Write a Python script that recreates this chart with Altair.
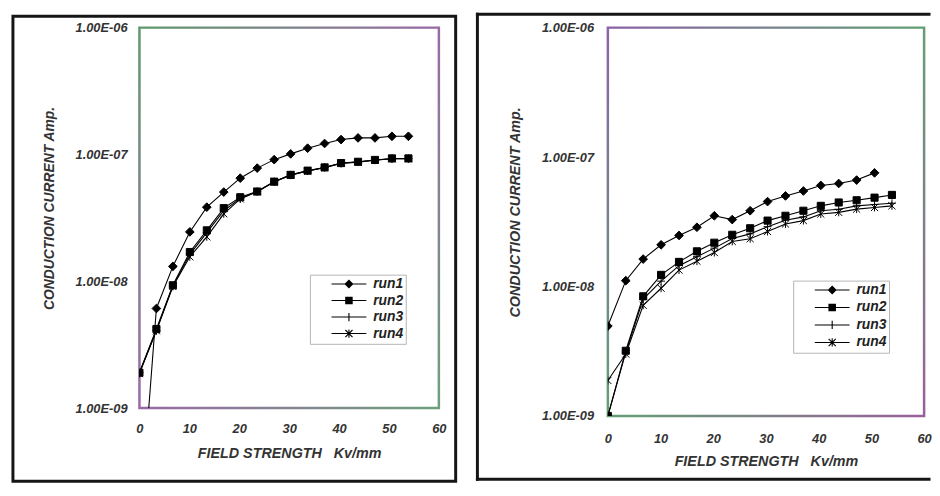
import altair as alt
import pandas as pd

# ---------------- data ----------------
series_names = ["run1", "run2", "run3", "run4"]
field_kv = [0, 3.4, 6.7, 10.1, 13.5, 16.9, 20.2, 23.6, 27.0, 30.3, 33.7, 37.1, 40.4, 43.8, 47.2, 50.6, 53.9]

left_run1 = [1.1e-10, 6.1e-9, 1.31e-8, 2.45e-8, 3.84e-8, 5.05e-8, 6.5e-8, 7.8e-8, 9.1e-8,
             1.01e-7, 1.12e-7, 1.22e-7, 1.31e-7, 1.35e-7, 1.35e-7, 1.39e-7, 1.39e-7]
left_run2 = [1.9e-9, 4.2e-9, 9.3e-9, 1.7e-8, 2.52e-8, 3.77e-8, 4.6e-8, 5.1e-8, 6.1e-8,
             6.9e-8, 7.45e-8, 7.9e-8, 8.55e-8, 8.75e-8, 9.05e-8, 9.3e-8, 9.3e-8]
left_run3 = [1.9e-9, 4.1e-9, 9.2e-9, 1.63e-8, 2.42e-8, 3.6e-8, 4.5e-8, 5.1e-8, 6.1e-8,
             6.9e-8, 7.4e-8, 7.9e-8, 8.5e-8, 8.7e-8, 9.0e-8, 9.25e-8, 9.25e-8]
left_run4 = [1.87e-9, 4.07e-9, 9.1e-9, 1.56e-8, 2.24e-8, 3.4e-8, 4.46e-8, 5.08e-8, 6.08e-8,
             6.86e-8, 7.4e-8, 7.87e-8, 8.51e-8, 8.71e-8, 9.03e-8, 9.25e-8, 9.25e-8]

right_run1 = [4.95e-9, 1.11e-8, 1.63e-8, 2.1e-8, 2.48e-8, 2.87e-8, 3.52e-8, 3.29e-8,
              3.85e-8, 4.53e-8, 5.01e-8, 5.47e-8, 6.04e-8, 6.25e-8, 6.64e-8, 7.55e-8]
right_run2 = [1.0e-9, 3.19e-9, 8.4e-9, 1.23e-8, 1.55e-8, 1.87e-8, 2.18e-8, 2.51e-8, 2.82e-8,
              3.23e-8, 3.52e-8, 3.85e-8, 4.2e-8, 4.46e-8, 4.64e-8, 4.86e-8, 5.1e-8]
right_run3 = [1.0e-9, 3.1e-9, 8.0e-9, 1.1e-8, 1.45e-8, 1.7e-8, 1.98e-8, 2.35e-8, 2.55e-8,
              2.9e-8, 3.25e-8, 3.45e-8, 3.85e-8, 3.95e-8, 4.2e-8, 4.3e-8, 4.4e-8]
right_run4 = [1.88e-9, 3.01e-9, 7.16e-9, 9.7e-9, 1.34e-8, 1.57e-8, 1.83e-8, 2.23e-8, 2.34e-8,
              2.66e-8, 3.04e-8, 3.23e-8, 3.63e-8, 3.74e-8, 3.96e-8, 4.08e-8, 4.2e-8]

x_ticks = [0, 10, 20, 30, 40, 50, 60]
y_ticks = [1e-9, 1e-8, 1e-7, 1e-6]

x_title = "FIELD STRENGTH\u00a0\u00a0\u00a0Kv/mm"
y_title = "CONDUCTION CURRENT Amp."

# marker shapes for the data points (unit paths, stroked + filled)
marker_paths = [
    "M0,-1.1L1.1,0L0,1.1L-1.1,0Z",
    "M-0.9,-0.9H0.9V0.9H-0.9Z",
    "M-1,0H1M0,-1V1",
    "M-0.9,-0.9L0.9,0.9M-0.9,0.9L0.9,-0.9M0,-1V1",
]
# legend symbols: line segment + marker, drawn purely as filled outlines
_seg = "M-4.4,-0.14H4.4V0.14H-4.4Z"
_vbar = "M-0.14,-1.05H0.14V1.05H-0.14Z"
legend_paths = [
    _seg + "M0,-1.15L1.15,0L0,1.15L-1.15,0Z",
    _seg + "M-0.95,-0.95H0.95V0.95H-0.95Z",
    _seg + _vbar,
    _seg + "M-0.8,-1L1,0.8L0.8,1L-1,-0.8Z" + "M-1,0.8L0.8,-1L1,-0.8L-0.8,1Z" + _vbar,
]

FONT = "Liberation Sans"
TXT = "#333333"


def long_df(runs, xs):
    rows = []
    for name, vals in zip(series_names, runs):
        for xv, yv in zip(xs, vals):
            rows.append({"x": xv, "y": yv, "series": name})
    return pd.DataFrame(rows)


one = pd.DataFrame({"k": [0]})
legend_df = pd.DataFrame({"series": series_names})


def panel(df, W, H, lab_pad_y, lab_pad_x, title_pad_x, ytitle_size, xtitle_size,
          legend_x, legend_y, row_pad, trail, grad_stops, frame_layers):
    xs = alt.Scale(domain=[0, 60], nice=False, zero=False)
    ys = alt.Scale(type="log", domain=[1e-9, 1e-6], nice=False)
    xaxis = alt.Axis(values=x_ticks, ticks=False, domain=False, grid=False,
                     labelPadding=lab_pad_x, titlePadding=title_pad_x, labelFlush=False,
                     labelOverlap=False, labelFont=FONT, labelFontSize=13,
                     labelFontStyle="italic", labelFontWeight="bold", labelColor=TXT,
                     titleFont=FONT, titleFontSize=xtitle_size, titleFontStyle="italic",
                     titleFontWeight="bold", titleColor=TXT)
    yaxis = alt.Axis(values=y_ticks, ticks=False, domain=False, grid=False,
                     labelExpr="'1.00E-0' + round(-log(datum.value)/LN10)",
                     labelPadding=lab_pad_y, titlePadding=19, labelFlush=False,
                     labelOverlap=False, titleY=H / 2 - 10,
                     labelFont=FONT, labelFontSize=13,
                     labelFontStyle="italic", labelFontWeight="bold", labelColor=TXT,
                     titleFont=FONT, titleFontSize=ytitle_size, titleFontStyle="italic",
                     titleFontWeight="bold", titleColor=TXT)

    border = alt.Chart(one).mark_rect(
        filled=False,
        stroke=alt.LinearGradient(
            gradient="linear", x1=0, y1=0, x2=1, y2=1,
            stops=[alt.GradientStop(color=c, offset=o) for c, o in grad_stops]),
        strokeWidth=2.5,
    ).encode(x=alt.value(0), x2=alt.value(W), y=alt.value(0), y2=alt.value(H))

    base = alt.Chart(df)
    lines = base.mark_line(clip=True, color="black", strokeWidth=1.1).encode(
        x=alt.X("x:Q", scale=xs, axis=xaxis, title=x_title),
        y=alt.Y("y:Q", scale=ys, axis=yaxis, title=y_title),
        detail="series:N",
    )
    pts = base.mark_point(clip=True, filled=True, color="black", stroke="black",
                          strokeWidth=1, size=64, opacity=1).encode(
        x="x:Q", y="y:Q",
        shape=alt.Shape("series:N", scale=alt.Scale(domain=series_names, range=marker_paths),
                        legend=None),
    )
    # legend carrier: its marks sit outside the plot and are clipped away
    leg = alt.Chart(legend_df).mark_point(clip=True, filled=True, color="black",
                                          size=64).encode(
        x=alt.value(-60), y=alt.value(-60),
        shape=alt.Shape("series:N", scale=alt.Scale(domain=series_names, range=legend_paths),
                        legend=alt.Legend(
                            title=None, orient="none", legendX=legend_x, legendY=legend_y,
                            direction="vertical", strokeColor="#b5b5b5", fillColor="white",
                            padding=2.5, rowPadding=row_pad, symbolSize=64,
                            symbolOffset=30, labelOffset=17.5, labelLimit=300,
                            symbolStrokeWidth=0, symbolFillColor="black", symbolOpacity=1,
                            labelFont=FONT, labelFontSize=14, labelFontStyle="italic",
                            labelFontWeight="bold", labelColor="#222222",
                            labelExpr="datum.label + '" + "\u2002" * trail + "'",
                        )),
    )
    return alt.layer(*frame_layers, border, lines, pts, leg).resolve_scale(
        shape="independent").properties(width=W, height=H)


# left panel
W1, H1 = 303, 385
left_frame = [
    alt.Chart(one).mark_rect(filled=False, color="#151515", strokeWidth=3).encode(
        x=alt.value(-128), x2=alt.value(W1 + 17), y=alt.value(-11.5), y2=alt.value(H1 + 74))
]
left = panel(long_df([left_run1, left_run2, left_run3, left_run4], field_kv),
             W1, H1, 12.5, 15, 11, 14, 14.5, 172.5, 250, 2.7, 3,
             [("#5f9a6c", 0), ("#9a6aa6", 0.5), ("#6ea07c", 1)], left_frame)

# right panel
W2, H2 = 320, 393
fr = dict(color="#151515", strokeWidth=3, strokeCap="square")
right_frame = [
    alt.Chart(one).mark_rule(**fr).encode(x=alt.value(-132), y=alt.value(-13.5), y2=alt.value(H2 + 64)),
    alt.Chart(one).mark_rule(**fr).encode(y=alt.value(-13.5), x=alt.value(-132), x2=alt.value(W2 + 5)),
    alt.Chart(one).mark_rule(**fr).encode(y=alt.value(H2 + 64), x=alt.value(-132), x2=alt.value(W2 + 5)),
]
right = panel(long_df([right_run1, right_run2, right_run3, right_run4], field_kv),
              W2, H2, 14.5, 17, 9, 14.5, 14.5, 187.5, 256, 3.7, 2,
              [("#8c64a8", 0), ("#62a074", 0.5), ("#9a5f9a", 1)], right_frame)

chart = alt.hconcat(left, right, spacing=17).properties(
    padding={"left": 3, "top": 0, "right": 0, "bottom": 0},
    background="white",
).configure_view(strokeWidth=0).configure(font=FONT)

chart.save("out.html", embed_options={"renderer": "svg", "actions": False})
